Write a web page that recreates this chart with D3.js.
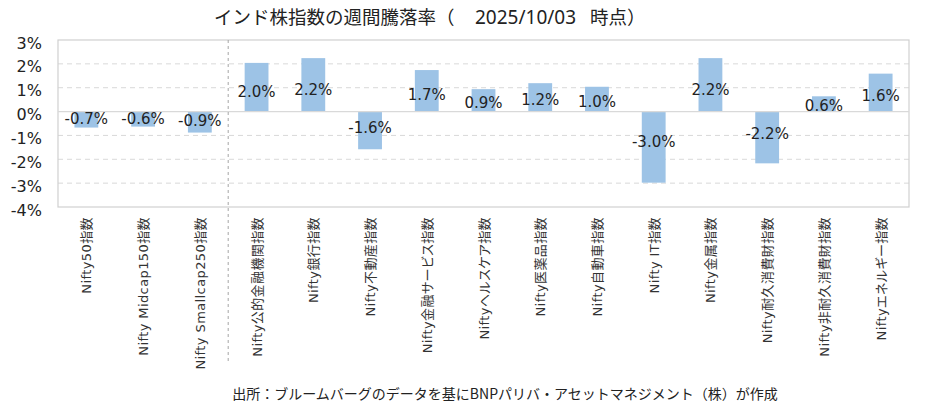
<!DOCTYPE html>
<html>
<head>
<meta charset="utf-8">
<script src="https://cdn.jsdelivr.net/npm/d3@7"></script>
<style>
  body { margin: 0; background: #fff; }
  text { font-family: "DejaVu Sans", "Noto Sans CJK JP", sans-serif; fill: #222; }
  .jp { font-family: "Noto Sans CJK JP", sans-serif; }
</style>
</head>
<body>
<script>
// categories and weekly change (%)
var categories = ["Nifty50指数", "Nifty Midcap150指数", "Nifty Smallcap250指数",
  "Nifty公的金融機関指数", "Nifty銀行指数", "Nifty不動産指数", "Nifty金融サービス指数",
  "Niftyヘルスケア指数", "Nifty医薬品指数", "Nifty自動車指数", "Nifty IT指数",
  "Nifty金属指数", "Nifty耐久消費財指数", "Nifty非耐久消費財指数", "Niftyエネルギー指数"];
var changes = [-0.67, -0.63, -0.88, 2.04, 2.24, -1.58, 1.74, 0.94, 1.19, 1.04, -2.98, 2.24, -2.17, 0.64, 1.59];
var yTicks = [3, 2, 1, 0, -1, -2, -3, -4];
var titleMain = "インド株指数の週間騰落率（";
var titleDate = "2025/10/03";
var titleEnd = "時点）";
var sourceText = "出所：ブルームバーグのデータを基にBNPパリバ・アセットマネジメント（株）が作成";

// set the dimensions and margins of the graph
var W = 934, H = 420;
var margin = {top: 40, right: 25, bottom: 213, left: 58},
    width = W - margin.left - margin.right,
    height = H - margin.top - margin.bottom;

var x = d3.scaleBand().domain(categories).range([0, width]).paddingInner(0.58).paddingOuter(0.29);
var y = d3.scaleLinear().domain([-4, 3]).range([height, 0]);

var svg = d3.select("body").append("svg")
    .attr("width", W)
    .attr("height", H);

var g = svg.append("g")
    .attr("transform", "translate(" + margin.left + "," + margin.top + ")");

// title
var title = svg.append("text")
    .attr("y", 24)
    .style("font-size", "18.5px");
title.append("tspan").attr("class", "jp").attr("x", 214).text(titleMain);
title.append("tspan").attr("x", 475).style("font-size", "19px").style("font-family", "Noto Sans, sans-serif").text(titleDate);
title.append("tspan").attr("class", "jp").attr("x", 590).text(titleEnd);

// horizontal grid lines
g.selectAll(".grid")
    .data(yTicks.filter(function(d) { return d !== 3 && d !== -4 && d !== 0; }))
    .enter().append("line")
    .attr("x1", 0).attr("x2", width)
    .attr("y1", function(d) { return y(d); })
    .attr("y2", function(d) { return y(d); })
    .attr("stroke", "#d9d9d9")
    .attr("stroke-dasharray", "5,4");

// plot border
g.append("rect")
    .attr("width", width).attr("height", height)
    .attr("fill", "none")
    .attr("stroke", "#d0d0d0")
    .attr("stroke-width", 1.2);

// bars
g.selectAll(".bar")
    .data(changes)
    .enter().append("rect")
    .attr("x", function(d, i) { return x(categories[i]); })
    .attr("width", x.bandwidth())
    .attr("y", function(d) { return y(Math.max(0, d)); })
    .attr("height", function(d) { return Math.abs(y(d) - y(0)); })
    .attr("fill", "#9dc3e6");

// zero line
g.append("line")
    .attr("x1", 0).attr("x2", width)
    .attr("y1", y(0)).attr("y2", y(0))
    .attr("stroke", "#d9d9d9")
    .attr("stroke-width", 1.2);

// divider between broad and sector indices
var divX = x.step() * 3;
g.append("line")
    .attr("x1", divX).attr("x2", divX)
    .attr("y1", 0).attr("y2", 323)
    .attr("stroke", "#a6a6a6")
    .attr("stroke-dasharray", "3,3");

// data labels
g.selectAll(".lbl")
    .data(changes)
    .enter().append("text")
    .attr("x", function(d, i) { return x(categories[i]) + x.bandwidth() / 2; })
    .attr("y", function(d) { return y(d * 0.42); })
    .attr("dy", "0.38em")
    .attr("text-anchor", "middle")
    .style("font-size", "15px")
    .text(function(d) { return d.toFixed(1) + "%"; });

// Y axis
var yAxis = g.append("g")
    .call(d3.axisLeft(y).tickValues(yTicks).tickSize(0).tickPadding(16)
        .tickFormat(function(d) { return d + "%"; }));
yAxis.select(".domain").remove();
yAxis.selectAll("text")
    .attr("dy", "0.5em")
    .style("font-size", "16px")
    .style("font-family", "DejaVu Sans, sans-serif")
    .attr("fill", "#222");

// X category labels: latin and japanese parts sized separately
var cjk = /[\u3000-\u9fff\uff00-\uffef]+|[^\u3000-\u9fff\uff00-\uffef]+/g;
g.selectAll(".cat")
    .data(categories)
    .enter().append("text")
    .attr("transform", function(d) {
        return "translate(" + (x(d) + x.bandwidth() / 2 + 5) + "," + (height + 10) + ") rotate(-90)";
    })
    .attr("text-anchor", "end")
    .style("fill", "#333")
    .each(function(d) {
        var t = d3.select(this);
        d.match(cjk).forEach(function(part) {
            var isJp = /[\u3000-\u9fff\uff00-\uffef]/.test(part);
            t.append("tspan")
                .style("font-family", isJp ? "Noto Sans CJK JP, sans-serif" : "DejaVu Sans, sans-serif")
                .style("font-size", isJp ? "13px" : "13px")
                .style("font-feature-settings", isJp ? "'palt'" : "normal")
                .style("letter-spacing", isJp ? "0.4px" : "0.4px")
                .text(part);
        });
    });

// source
svg.append("text")
    .attr("class", "jp")
    .attr("x", 505)
    .attr("y", 399)
    .attr("text-anchor", "middle")
    .style("font-size", "14px")
    .text(sourceText);
</script>
</body>
</html>
